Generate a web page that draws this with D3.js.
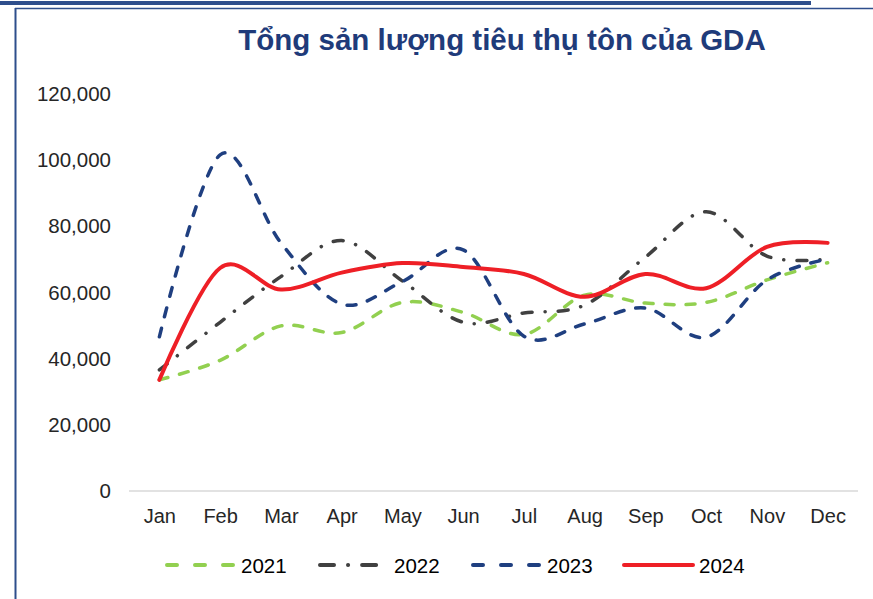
<!DOCTYPE html>
<html>
<head>
<meta charset="utf-8">
<script src="https://cdn.jsdelivr.net/npm/d3@7"></script>
<style>
  body { margin: 0; background: #fff; }
  text { font-family: "Liberation Sans", Arial, sans-serif; }
</style>
</head>
<body>
<div id="chart"></div>
<script>
// data
const months = ["Jan", "Feb", "Mar", "Apr", "May", "Jun", "Jul", "Aug", "Sep", "Oct", "Nov", "Dec"];
const years = ["2021", "2022", "2023", "2024"];
const v2021 = [33600, 39500, 49900, 47900, 57000, 54000, 47300, 59200, 56800, 57000, 63800, 69000];
const v2022 = [36600, 51000, 64800, 75700, 63500, 51000, 53800, 56200, 70700, 84400, 71000, 70100];
const v2023 = [46600, 101600, 75000, 56500, 63300, 72900, 46800, 50500, 55300, 46500, 63800, 70100];
const v2024 = [33600, 67400, 60900, 66000, 68900, 67700, 65600, 58700, 65600, 61300, 73800, 75000];
const yTicks = [0, 20000, 40000, 60000, 80000, 100000, 120000];

const W = 873, H = 599;
const svg = d3.select("#chart").append("svg")
  .attr("width", W)
  .attr("height", H);

// frame lines
svg.append("line").attr("x1", 0).attr("x2", 811).attr("y1", 3).attr("y2", 3)
  .attr("stroke", "#2E4E8C").attr("stroke-width", 4);
svg.append("line").attr("x1", 15).attr("x2", W).attr("y1", 8.5).attr("y2", 8.5)
  .attr("stroke", "#2E4E8C").attr("stroke-width", 1.5);
svg.append("line").attr("x1", 15.5).attr("x2", 15.5).attr("y1", 8).attr("y2", H)
  .attr("stroke", "#2E4E8C").attr("stroke-width", 2);

// title
svg.append("text")
  .attr("x", 502).attr("y", 50)
  .attr("text-anchor", "middle")
  .attr("font-size", 29.5).attr("font-weight", "bold")
  .attr("fill", "#1F3B7A")
  .text("Tổng sản lượng tiêu thụ tôn của GDA");

// scales
const x = d3.scalePoint().domain(months).range([129, 858]).padding(0.5);
const y = d3.scaleLinear().domain([0, 120000]).range([491, 94]);

// y axis labels (no line)
const yAxis = svg.append("g")
  .attr("transform", "translate(111,0)")
  .call(d3.axisLeft(y).tickValues(yTicks).tickSize(0).tickPadding(0)
    .tickFormat(d3.format(",")));
yAxis.select(".domain").remove();
yAxis.selectAll("text")
  .attr("font-size", 20.5).attr("fill", "#262626")
  .attr("font-family", "Liberation Sans, Arial, sans-serif");

// x axis
const xAxis = svg.append("g")
  .attr("transform", "translate(0,491)")
  .call(d3.axisBottom(x).tickSize(0).tickPadding(18));
xAxis.select(".domain")
  .attr("d", "M129,0H858")
  .attr("stroke", "#D9D9D9").attr("stroke-width", 1.5);
xAxis.selectAll("text")
  .attr("font-size", 20).attr("fill", "#262626")
  .attr("font-family", "Liberation Sans, Arial, sans-serif");

const series = [
  { name: years[0], values: v2021, color: "#92D050", dash: "9,12", legendDash: "10,18", width: 3.5 },
  { name: years[1], values: v2022, color: "#404040", dash: "10,13,0.1,13", legendDash: "14,14,0.1,14", width: 3.5 },
  { name: years[2], values: v2023, color: "#1F3F80", dash: "9,12", legendDash: "10,18", width: 3.5 },
  { name: years[3], values: v2024, color: "#EE1F26", dash: null, legendDash: null, width: 4 }
];

const line = d3.line()
  .x((d, i) => x(months[i]))
  .y(d => y(d))
  .curve(d3.curveCatmullRom.alpha(0));

svg.append("g").selectAll("path")
  .data(series)
  .join("path")
  .attr("d", d => line(d.values))
  .attr("fill", "none")
  .attr("stroke", d => d.color)
  .attr("stroke-width", d => d.width)
  .attr("stroke-linecap", "round")
  .attr("stroke-dasharray", d => d.dash);

// legend
const legendX = [167, 320, 473, 624];
const legend = svg.append("g").selectAll("g")
  .data(series)
  .join("g")
  .attr("transform", (d, i) => `translate(${legendX[i]},565)`);
legend.append("line")
  .attr("x1", 0).attr("x2", d => d.legendDash ? 70 : 69)
  .attr("stroke", d => d.color)
  .attr("stroke-width", 4)
  .attr("stroke-linecap", "round")
  .attr("stroke-dasharray", d => d.legendDash);
legend.append("text")
  .attr("x", d => d.legendDash ? 74 : 75).attr("y", 7.5)
  .attr("font-size", 20.5).attr("fill", "#000")
  .text(d => d.name);
</script>
</body>
</html>
